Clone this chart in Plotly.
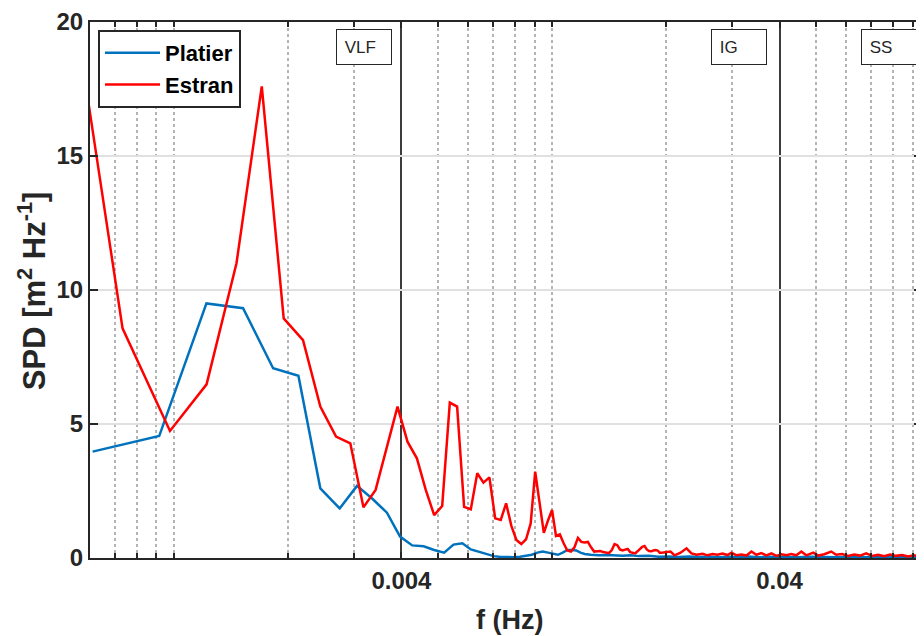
import math
import plotly.graph_objects as go

# ---------------- data ----------------
platier_f = [0.000610, 0.000915, 0.001220, 0.001525, 0.001831, 0.002136, 0.002441, 0.002746,
             0.003052, 0.003357, 0.003662, 0.003967, 0.004272, 0.004578, 0.004883, 0.005188,
             0.005493, 0.005798, 0.006104, 0.006409, 0.006714, 0.007019, 0.007324, 0.007629,
             0.007935, 0.008240, 0.008545, 0.008850, 0.009155, 0.009460, 0.009766, 0.010071,
             0.010376, 0.010681, 0.010986, 0.011292, 0.011597, 0.011902, 0.012207,
             0.01267, 0.0133, 0.01397, 0.01466, 0.01539, 0.01616, 0.01697, 0.01803, 0.01916,
             0.02036, 0.02163, 0.02299, 0.02443, 0.02596, 0.02758, 0.02931, 0.03114, 0.03309,
             0.03516, 0.03736, 0.03972, 0.04220, 0.04485, 0.04765, 0.05064, 0.05381, 0.05718,
             0.06076, 0.06457, 0.06861, 0.07292, 0.07749, 0.08234, 0.08750, 0.09297, 0.09879]
platier_spd = [3.97, 4.55, 9.5, 9.32, 7.08, 6.8, 2.6, 1.85,
               2.69, 2.2, 1.69, 0.8, 0.47, 0.44, 0.3, 0.2,
               0.5, 0.55, 0.32, 0.24, 0.14, 0.07, 0.04, 0.03,
               0.03, 0.05, 0.08, 0.12, 0.2, 0.24, 0.2, 0.15,
               0.12, 0.2, 0.3, 0.3, 0.28, 0.2, 0.15,
               0.12, 0.1, 0.11, 0.09, 0.08, 0.1, 0.07, 0.08, 0.05,
               0.06, 0.04, 0.06, 0.04, 0.05, 0.03, 0.05, 0.04, 0.06,
               0.03, 0.05, 0.04, 0.05, 0.03, 0.05, 0.04, 0.05, 0.03,
               0.04, 0.03, 0.04, 0.03, 0.04, 0.03, 0.04, 0.03, 0.03]

estran_f = [0.000488, 0.000732, 0.000977, 0.001221, 0.001465, 0.001709, 0.001953, 0.002197,
            0.002441, 0.002686, 0.002930, 0.003174, 0.003418, 0.003662, 0.003906, 0.004150,
            0.004395, 0.004639, 0.004883, 0.005127, 0.005371, 0.005615, 0.005859, 0.006104,
            0.006348, 0.006592, 0.006836, 0.007080, 0.007324, 0.007568, 0.007813, 0.008057,
            0.008301, 0.008545, 0.008789, 0.009033, 0.009277, 0.009521, 0.009766, 0.010010,
            0.010254, 0.010498, 0.010742, 0.010986, 0.011230, 0.011475, 0.011719, 0.011963,
            0.012207, 0.012451, 0.012695, 0.012939, 0.013184, 0.013428, 0.013672, 0.013916,
            0.014160, 0.014404, 0.014648, 0.014893, 0.015137, 0.015381, 0.015625, 0.015869,
            0.016113, 0.016357, 0.016602, 0.016846, 0.017090, 0.017334, 0.017578, 0.017822,
            0.018066, 0.018311, 0.018555, 0.018799, 0.019043, 0.019287, 0.019531,
            0.01999, 0.0206, 0.02111, 0.0219, 0.0227, 0.0234, 0.02413, 0.02503, 0.0258,
            0.0266, 0.02742, 0.02827, 0.02914, 0.02985, 0.03077, 0.03172, 0.0327, 0.03371,
            0.03475, 0.03582, 0.03693, 0.03807, 0.03925, 0.04046, 0.04171, 0.04298, 0.04431,
            0.04568, 0.04709, 0.04912, 0.05064, 0.05252, 0.0548, 0.05649, 0.05859, 0.06076,
            0.06302, 0.06536, 0.06778, 0.07031, 0.07292, 0.07562, 0.07843, 0.08134, 0.08435,
            0.0875, 0.09075, 0.0941, 0.09879]
estran_spd = [25.0, 8.57, 4.74, 6.48, 11.0, 17.6, 8.94, 8.13,
              5.65, 4.53, 4.28, 1.89, 2.54, 4.1, 5.65, 4.34,
              3.72, 2.54, 1.6, 1.94, 5.8, 5.65, 1.91, 1.82,
              3.16, 2.81, 3.01, 1.48, 1.42, 2.04, 1.2, 0.67,
              0.52, 0.70, 1.29, 3.22, 2.0, 0.94, 1.4, 1.79,
              0.82, 0.88, 0.55, 0.28, 0.24, 0.4, 0.75, 0.6,
              0.58, 0.6, 0.4, 0.24, 0.25, 0.26, 0.22, 0.2,
              0.18, 0.3, 0.52, 0.48, 0.32, 0.28, 0.3, 0.34,
              0.22, 0.18, 0.17, 0.25, 0.34, 0.42, 0.45, 0.32,
              0.26, 0.25, 0.28, 0.3, 0.28, 0.2, 0.2,
              0.22, 0.24, 0.1, 0.2, 0.36, 0.17, 0.12, 0.16, 0.1,
              0.15, 0.12, 0.17, 0.11, 0.2, 0.1, 0.13, 0.09, 0.24,
              0.12, 0.18, 0.1, 0.17, 0.08, 0.14, 0.1, 0.15, 0.1,
              0.24, 0.1, 0.2, 0.09, 0.14, 0.24, 0.12, 0.15, 0.08,
              0.13, 0.09, 0.17, 0.08, 0.12, 0.07, 0.13, 0.08, 0.11,
              0.06, 0.1, 0.06, 0.08]

x_tick_vals = [0.004, 0.04]
x_tick_text = ["0.004", "0.04"]
x_minor_vals = [0.0007, 0.0008, 0.0009, 0.001, 0.002, 0.003, 0.005, 0.006, 0.007, 0.008,
                0.009, 0.01, 0.02, 0.03, 0.05, 0.06, 0.07, 0.08, 0.09]
y_tick_vals = [0, 5, 10, 15, 20]

bands = ["VLF", "IG", "SS"]
band_left_f = [0.002692, 0.02643, 0.06574]

# ---------------- figure ----------------
AX = "#262626"
FONT = "Liberation Sans, Arial, sans-serif"
OFF = 8  # default page body margin in the browser

W, H = 924 - OFF, 636 - OFF
L, T = 90 - OFF, 22 - OFF
PW, PH = 834, 536

fig = go.Figure()
fig.add_trace(go.Scatter(x=platier_f, y=platier_spd, mode="lines", name="Platier",
                         line=dict(color="#0072BD", width=2.5)))
fig.add_trace(go.Scatter(x=estran_f, y=estran_spd, mode="lines", name="Estran",
                         line=dict(color="#FF0000", width=2.5)))

for name, lf in zip(bands, band_left_f):
    fig.add_annotation(x=math.log10(lf), y=19.74, xref="x", yref="y",
                       xanchor="left", yanchor="top", text="&nbsp;" + name, showarrow=False,
                       width=48, height=28, align="left", valign="middle",
                       borderpad=3, bordercolor=AX, borderwidth=1, bgcolor="white",
                       font=dict(family=FONT, size=17, color=AX))

fig.add_annotation(x=(511 - 90) / PW, y=-(620 - 558) / PH, xref="paper", yref="paper",
                   text="<b>f (Hz)</b>", showarrow=False, xanchor="center", yanchor="middle",
                   font=dict(family=FONT, size=27, color=AX))
fig.add_annotation(x=(32 - 90) / PW, y=(558 - 291) / PH, xref="paper", yref="paper",
                   text="<b>SPD [m<sup>2</sup> Hz<sup>-1</sup>]</b>", showarrow=False,
                   textangle=-90, xanchor="center", yanchor="middle",
                   font=dict(family=FONT, size=31, color=AX))

fig.update_layout(
    width=W, height=H,
    margin=dict(l=L, r=W - L - PW, t=T, b=H - T - PH),
    paper_bgcolor="white", plot_bgcolor="white",
    font=dict(family=FONT, color=AX),
    showlegend=True,
    legend=dict(x=(98 - 90) / PW, y=1 - (30 - 22) / PH, xanchor="left", yanchor="top",
                bgcolor="white", bordercolor=AX, borderwidth=2,
                font=dict(family=FONT, size=22, color="black", weight="bold"),
                itemwidth=55, tracegroupgap=0),
    xaxis=dict(type="log", range=[-3.2216, -1.0211],
               tickmode="array", tickvals=x_tick_vals, ticktext=x_tick_text,
               showgrid=True, gridcolor="#3c3c3c", gridwidth=1.5,
               showline=True, linecolor=AX, linewidth=2, mirror="ticks",
               ticks="inside", ticklen=6, tickwidth=1.5, tickcolor=AX,
               tickfont=dict(family=FONT, size=24, color=AX, weight="bold"),
               minor=dict(tickmode="array", tickvals=x_minor_vals, ticks="inside",
                          ticklen=5, tickwidth=1.5, tickcolor=AX,
                          showgrid=True, gridcolor="#b4b4b4", griddash="dot", gridwidth=1.5),
               zeroline=False),
    yaxis=dict(range=[0, 20], tickmode="array", tickvals=y_tick_vals,
               showgrid=True, gridcolor="#e0e0e0", gridwidth=2,
               showline=True, linecolor=AX, linewidth=2, mirror="ticks",
               ticks="inside", ticklen=8, tickwidth=1.5, tickcolor=AX,
               tickfont=dict(family=FONT, size=24, color=AX, weight="bold"),
               zeroline=False),
)

fig.write_html("out.html")
